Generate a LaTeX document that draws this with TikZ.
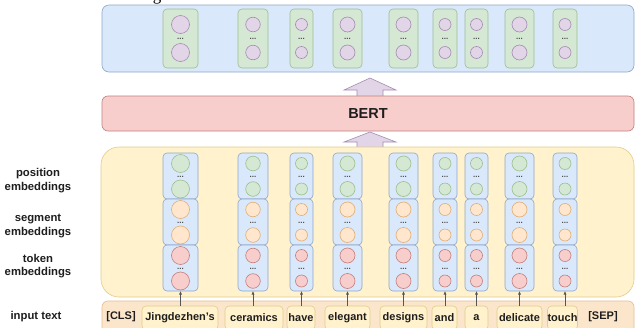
\documentclass[tikz,border=0pt]{standalone}
\usepackage{fontspec}
\setmainfont{Liberation Sans}
\newfontfamily\fragfont{Liberation Serif}
\usetikzlibrary{arrows.meta}
\definecolor{bluefill}{HTML}{DAE8FC}
\definecolor{blueline}{HTML}{8EA6C9}
\definecolor{greenfill}{HTML}{D5E8D4}
\definecolor{greenline}{HTML}{9DBE8E}
\definecolor{purplefill}{HTML}{E1D5E7}
\definecolor{purpleline}{HTML}{A68CB3}
\definecolor{redfill}{HTML}{F8CECC}
\definecolor{redline}{HTML}{C0807D}
\definecolor{yellowfill}{HTML}{FFF2CC}
\definecolor{yellowline}{HTML}{E2CC8C}
\definecolor{orangefill}{HTML}{FFE6CC}
\definecolor{orangeline}{HTML}{DDAF78}
\definecolor{peachfill}{HTML}{FCE6CB}
\definecolor{peachline}{HTML}{E3BF94}
\definecolor{txt}{HTML}{1E1E1E}
\begin{document}
\begin{tikzpicture}[x=1pt,y=-1pt,
  box/.style={inner sep=0pt, outer sep=0pt, line width=0.6pt},
  outpanel/.style={box, draw=blueline, fill=bluefill, rounded corners=7pt},
  bertbox/.style={box, draw=redline, fill=redfill, rounded corners=6pt},
  embpanel/.style={box, draw=yellowline, fill=yellowfill, rounded corners=18pt},
  inpanel/.style={box, draw=peachline, fill=peachfill, rounded corners=6pt},
  greenbox/.style={box, draw=greenline, fill=greenfill, rounded corners=4pt},
  secbox/.style={box, draw=blueline, fill=bluefill, rounded corners=4pt},
  wordbox/.style={box, draw=yellowline, fill=yellowfill, rounded corners=4pt,
    font=\bfseries\fontsize{11}{13}\selectfont, text=txt},
  plain/.style={inner sep=0pt, font=\bfseries\fontsize{11}{13}\selectfont, text=txt},
  pcirc/.style={circle, box, draw=purpleline, fill=purplefill},
  gcirc/.style={circle, box, draw=greenline, fill=greenfill},
  ocirc/.style={circle, box, draw=orangeline, fill=orangefill},
  rcirc/.style={circle, box, draw=redline, fill=redfill},
  dotsn/.style={inner sep=0pt, font=\bfseries\fontsize{8}{8}\selectfont, text=txt!80},
  lbl/.style={align=center, inner sep=0pt, font=\bfseries\fontsize{11.3}{13.5}\selectfont, text=txt},
  fatarrow/.style={draw=purpleline, fill=purplefill, line width=0.6pt, line join=miter},
  tokarrow/.style={draw=txt!75, line width=0.6pt, -{Latex[length=3.5pt,width=3pt]}}
]
\useasboundingbox (0,0) rectangle (635,327);
\clip (0,0) rectangle (635,327);
\fill[white] (0,0) rectangle (635,327);

% caption fragment at the top edge
\node[font=\fragfont\fontsize{17}{17}\selectfont, anchor=base, inner sep=0pt] (frag) at (157,0.5) {g};

% output panel
\node[outpanel, minimum width=532pt, minimum height=67pt] (out) at (368,38.5) {};

% fat arrows
\draw[fatarrow] (357,96.5) -- (357,90) -- (344,90) -- (370,78) -- (396,90) -- (383,90) -- (383,96.5) -- cycle;
\draw[fatarrow] (357,147.5) -- (357,142) -- (344,142) -- (370,132) -- (396,142) -- (383,142) -- (383,147.5) -- cycle;

% BERT
\node[bertbox, minimum width=532pt, minimum height=35pt, text=txt,
  font=\bfseries\fontsize{14.5}{17}\selectfont] (bert) at (368,113.5) {BERT};

% embedding panel
\node[embpanel, minimum width=533pt, minimum height=150pt] (emb) at (367.5,222) {};

% input panel
\node[inpanel, minimum width=532pt, minimum height=40pt, anchor=north] (inp) at (368,301) {};

% left labels
\node[lbl] (lpos) at (38,180.5) {position\\embeddings};
\node[lbl] (lseg) at (38,226) {segment\\embeddings};
\node[lbl] (ltok) at (38,266) {token\\embeddings};
\node[lbl] (lin) at (36,317) {input text};

% special tokens
\node[plain] (cls) at (121,317) {[CLS]};
\node[plain] (sep) at (603,317) {[SEP]};

% columns
\foreach \i/\cx/\w/\r/\word/\wl/\wr in {
  1/180.5/35/9/{Jingdezhen's}/142/218,
  2/253/30/7.3/ceramics/225/283,
  3/301.5/23/6/have/287/315,
  4/347.5/29/7.5/elegant/325/370,
  5/403.5/29/7.5/designs/380/427,
  6/445/24/6/and/432/457,
  7/476.5/23/6/a/465/488,
  8/519.5/29/7.5/delicate/497/542,
  9/565/24/6/touch/548/577}{
  % output vectors
  \node[greenbox, minimum width=\w pt, minimum height=59pt] (o\i) at (\cx,38.5) {};
  \node[pcirc, minimum size={2*\r pt}] (o\i a) at (\cx,24.5) {};
  \node[dotsn] (o\i d) at (\cx,38.5) {...};
  \node[pcirc, minimum size={2*\r pt}] (o\i b) at (\cx,52.5) {};
  % position
  \node[secbox, minimum width=\w pt, minimum height=46pt] (p\i) at (\cx,176) {};
  \node[gcirc, minimum size={2*\r pt}] (p\i a) at (\cx,163.5) {};
  \node[dotsn] (p\i d) at (\cx,176.5) {...};
  \node[gcirc, minimum size={2*\r pt}] (p\i b) at (\cx,189) {};
  % segment
  \node[secbox, minimum width=\w pt, minimum height=46pt] (s\i) at (\cx,222) {};
  \node[ocirc, minimum size={2*\r pt}] (s\i a) at (\cx,209.5) {};
  \node[dotsn] (s\i d) at (\cx,222.5) {...};
  \node[ocirc, minimum size={2*\r pt}] (s\i b) at (\cx,235) {};
  % token
  \node[secbox, minimum width=\w pt, minimum height=46pt] (t\i) at (\cx,268) {};
  \node[rcirc, minimum size={2*\r pt}] (t\i a) at (\cx,255.5) {};
  \node[dotsn] (t\i d) at (\cx,268.5) {...};
  \node[rcirc, minimum size={2*\r pt}] (t\i b) at (\cx,281) {};
  % input word
  \node[wordbox, minimum width={(\wr-\wl)*1pt}, minimum height=24pt, anchor=north]
    (w\i) at ({(\wl+\wr)/2},306) {\raisebox{1pt}{\word}};
  \draw[tokarrow] (w\i.north -| t\i.south) -- (t\i.south);
}
\end{tikzpicture}
\end{document}
